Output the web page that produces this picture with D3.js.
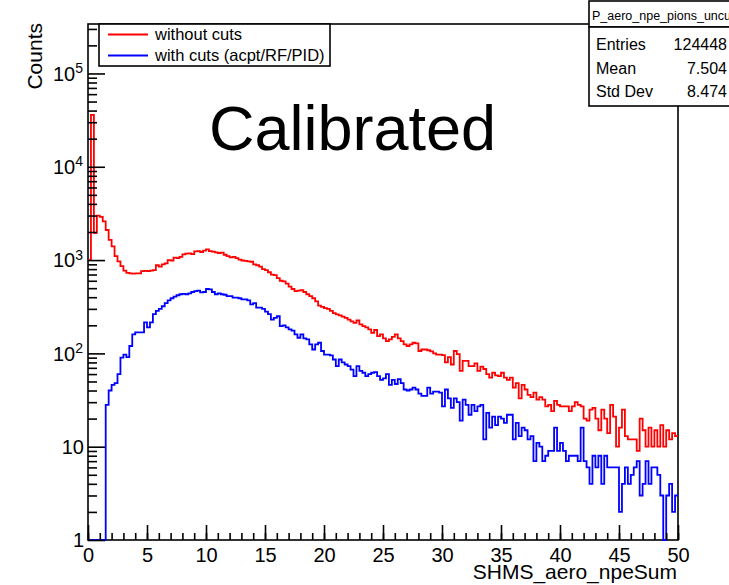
<!DOCTYPE html>
<html><head><meta charset="utf-8">
<script src="https://cdn.jsdelivr.net/npm/d3@7"></script>
<style>
body{margin:0;background:#fff}
svg{display:block}
text{font-family:"Liberation Sans",Arial,Helvetica,sans-serif;fill:#000}
</style>
</head><body>
<svg id="c" width="729" height="585"></svg>
<script>
// ---- data ----
const binLow = 0, binHigh = 50, binCount = 200;
const redCounts = [
1000,36000,1960,3000,2900,2600,2100,1650,1400,1100,
970,860,770,730,720,715,720,720,760,765,
760,770,780,880,850,900,920,1000,990,1060,
1050,1080,1150,1170,1180,1160,1240,1250,1220,1260,
1300,1250,1230,1210,1190,1200,1140,1100,1070,1080,
1050,1010,990,980,970,960,900,880,850,800,
780,740,700,690,640,600,590,560,520,490,
465,470,475,455,430,410,390,360,325,315,
305,300,285,270,262,255,248,240,230,220,
212,225,205,196,190,181,166,178,153,160,
145,135,141,150,160,145,135,125,120,125,
130,128,106,110,110,108,105,100,97,97,
96,80,91,76,106,98,65,83,83,73,
73,78,65,72,68,60,55,62,58,57,
62,55,52,55,43,48,33,46,41,36,
34,38,32,34,32,27,28,24,31,28,
27,27,27,24,27,30,28,27,20,19,
25,26,20,15,25,20,14,28,21,10,
16,25,13,12,12,12,9,20,15,10,
16,10,15,10,17,10,15,12,14,13
];
const blueCounts = [
0,0,0,0,0,0,28,40,46,48,
60,90,97,91,120,160,168,168,168,215,
190,215,263,285,300,320,345,370,390,405,
420,430,435,430,440,455,465,470,450,455,
490,485,455,430,440,430,425,410,410,395,
395,390,380,380,370,335,345,310,310,300,
280,263,230,240,250,196,200,190,181,175,
160,147,160,145,141,125,110,125,130,106,
97,97,95,86,73,86,80,76,73,67,
57,73,65,62,57,60,62,63,57,52,
54,60,46,52,47,53,48,41,40,41,
43,41,37,35,35,43,37,39,39,38,
27,41,33,26,33,30,19,32,28,22,
28,24,27,28,12,23,16,21,17,21,
20,18,22,22,12,18,13,16,15,12,
13,7,11,10,7,8,9,9,16,9,
11,9,7,8,8,8,7,16,7,6,
4,8,6,8,4,8,6,6,6,6,
2,4,6,4,5,6,7,3,4,7,
4,6,6,5,3,0,3,4,2,3
];
const xTickValues = [0,5,10,15,20,25,30,35,40,45,50];
const yTickValues = [1,10,100,1000,10000,100000];
const yTickBase = ["1","10","10","10","10","10"];
const yTickExp  = ["","","2","3","4","5"];
const seriesNames = ["without cuts","with cuts (acpt/RF/PID)"];
const seriesColors = ["#ff0000","#0000ff"];
const statLabels = ["Entries","Mean","Std Dev"];
const statValues = ["124448","7.504","8.474"];
const histName = "P_aero_npe_pions_uncut";

// ---- layout ----
const L = 88, R = 678, T = 24, B = 540;
const svg = d3.select("#c");
const x = d3.scaleLinear().domain([binLow, binHigh]).range([L, R]);
const y = d3.scaleLog().domain([1, Math.pow(10, 5.53)]).range([B, T]);

// frame
svg.append("rect").attr("x", L).attr("y", T).attr("width", R - L).attr("height", B - T)
  .attr("fill", "none").attr("stroke", "#000").attr("stroke-width", 1.6);

// histograms
const bw = (binHigh - binLow) / binCount;
function histPoints(counts) {
  const pts = counts.map((v, i) => [binLow + i * bw, v]);
  pts.push([binHigh, counts[counts.length - 1]]);
  return pts;
}
const line = d3.line()
  .x(d => x(d[0]))
  .y(d => y(Math.max(d[1], 1)))
  .curve(d3.curveStepAfter);
svg.append("defs").append("clipPath").attr("id", "clip")
  .append("rect").attr("x", L - 2).attr("y", T).attr("width", R - L + 4).attr("height", B - T + 2);
[redCounts, blueCounts].forEach((c, k) => {
  svg.append("path").attr("d", line(histPoints(c)))
    .attr("fill", "none").attr("stroke", seriesColors[k]).attr("stroke-width", 1.8)
    .attr("clip-path", "url(#clip)");
});

// x axis
const xMinor = d3.range(binLow, binHigh + 0.001, 1);
svg.append("g").attr("transform", `translate(0,${B})`)
  .call(d3.axisBottom(x).tickValues(xMinor).tickSize(-7).tickFormat(""))
  .call(g => { g.select(".domain").remove(); g.selectAll("line").attr("stroke-width", 1.6); });
svg.append("g").attr("transform", `translate(0,${B})`)
  .call(d3.axisBottom(x).tickValues(xTickValues).tickSize(-15).tickPadding(8).tickFormat(d3.format("d")))
  .call(g => {
    g.select(".domain").remove();
    g.selectAll("line").attr("stroke-width", 1.6);
    g.selectAll("text").attr("font-size", 20).attr("font-family", "Liberation Sans, Arial, sans-serif").attr("fill", "#000");
  });

// y axis
const yMinor = [];
for (let e = 0; e <= 5; e++) for (let m = 2; m <= 9; m++) {
  const v = m * Math.pow(10, e);
  if (v <= y.domain()[1]) yMinor.push(v);
}
svg.append("g").attr("transform", `translate(${L},0)`)
  .call(d3.axisLeft(y).tickValues(yMinor).tickSize(-9).tickFormat(""))
  .call(g => { g.select(".domain").remove(); g.selectAll("line").attr("stroke-width", 1.6); });
svg.append("g").attr("transform", `translate(${L},0)`)
  .call(d3.axisLeft(y).tickValues(yTickValues).tickSize(-17).tickFormat(""))
  .call(g => { g.select(".domain").remove(); g.selectAll("line").attr("stroke-width", 1.6); });
const yl = svg.append("g").selectAll("text").data(yTickValues).join("text")
  .attr("x", (d, i) => yTickExp[i] ? 83 : 84)
  .attr("y", d => y(d))
  .attr("dy", "0.36em")
  .attr("text-anchor", "end")
  .attr("font-size", 20);
yl.each(function(d, i) {
  const t = d3.select(this);
  t.append("tspan").text(yTickBase[i]);
  if (yTickExp[i]) t.append("tspan").attr("font-size", 14).attr("dy", "-0.55em").text(yTickExp[i]);
});

// axis titles
svg.append("text").attr("transform", "translate(42,23) rotate(-90)")
  .attr("text-anchor", "end").attr("font-size", 21).text("Counts");
svg.append("text").attr("x", 677).attr("y", 579).attr("text-anchor", "end")
  .attr("font-size", 21).text("SHMS_aero_npeSum");

// big label
svg.append("text").attr("x", 209).attr("y", 150).attr("font-size", 63).text("Calibrated");

// legend
const lg = svg.append("g");
lg.append("rect").attr("x", 99).attr("y", 24).attr("width", 231).attr("height", 42)
  .attr("fill", "#fff").attr("stroke", "#000").attr("stroke-width", 1.6);
seriesNames.forEach((n, k) => {
  const yy = 34.5 + k * 21;
  lg.append("line").attr("x1", 108).attr("x2", 148).attr("y1", yy).attr("y2", yy)
    .attr("stroke", seriesColors[k]).attr("stroke-width", 1.8);
  lg.append("text").attr("x", 155).attr("y", yy).attr("dy", "0.36em")
    .attr("font-size", 16.5).text(n);
});

// stats box
const sb = svg.append("g");
sb.append("rect").attr("x", 589).attr("y", 1).attr("width", 150).attr("height", 26)
  .attr("fill", "#fff").attr("stroke", "#000").attr("stroke-width", 1.6);
sb.append("rect").attr("x", 589).attr("y", 27).attr("width", 150).attr("height", 79)
  .attr("fill", "#fff").attr("stroke", "#000").attr("stroke-width", 1.6);
sb.append("text").attr("x", 592).attr("y", 20).attr("font-size", 12.5).text(histName);
statLabels.forEach((s, k) => {
  const yy = 50 + k * 23.5;
  sb.append("text").attr("x", 596).attr("y", yy).attr("font-size", 16).text(s);
  sb.append("text").attr("x", 727).attr("y", yy).attr("text-anchor", "end").attr("font-size", 16).text(statValues[k]);
});
</script>
</body></html>
